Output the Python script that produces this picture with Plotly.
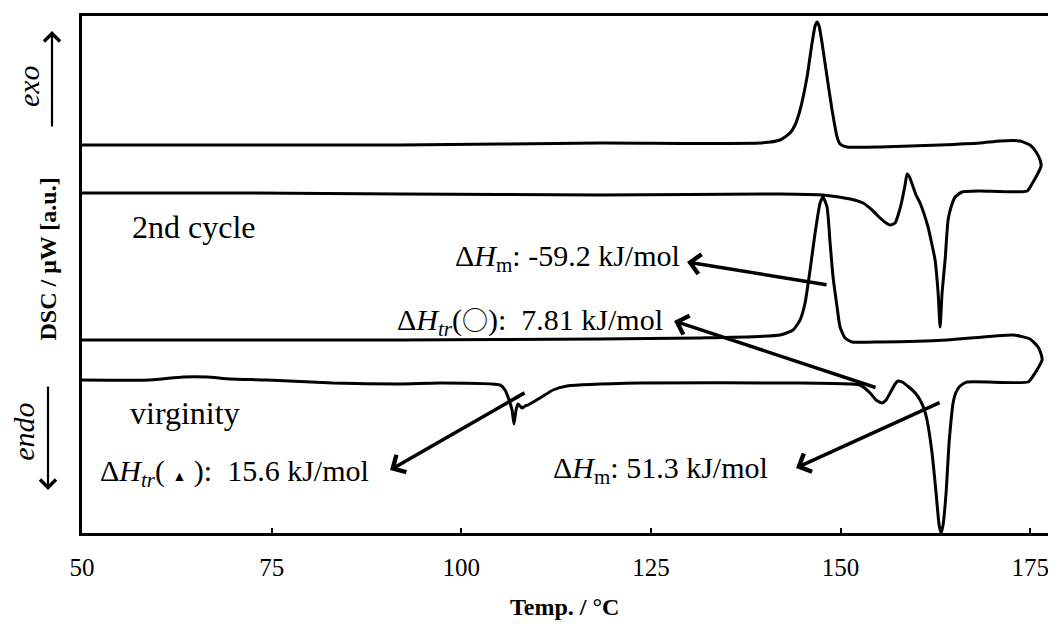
import plotly.graph_objects as go

# ---------------- data ----------------
# 2nd cycle: heating (lower branch, left->right) then cooling (upper branch, right->left)
cycle2_temp = [50.0, 72.15, 91.92, 118.29, 142.02, 147.69, 151.25, 152.97, 154.15, 155.21, 156.0,
               156.53, 157.19, 157.71, 158.11, 158.50, 158.77, 159.03, 159.43, 159.95, 160.48,
               161.53, 162.06, 162.46, 162.86, 163.12, 163.38, 163.78, 164.17, 164.57, 165.10,
               166.02, 168.39, 174.59, 175.38, 176.04, 176.43, 176.30, 175.78, 174.98, 173.67,
               171.03, 168.39, 163.12, 155.21, 150.86, 149.93, 149.54, 148.88, 148.22, 147.56,
               147.17, 146.90, 146.64, 146.24, 145.58, 144.66, 144.0, 143.34, 142.02, 139.39,
               118.29, 91.92, 72.15, 50.0]
cycle2_dsc = [340, 340, 339, 338, 339, 338, 334, 330, 323, 315, 310,
              308, 310, 321, 333, 348, 359, 357, 349, 338, 330,
              306, 288, 273, 240, 206, 240, 273, 313, 326, 336,
              341, 342, 342, 351, 360, 367, 373, 381, 388, 392,
              392, 390, 388, 386, 386, 389, 396, 423, 456, 490,
              507, 511, 507, 490, 456, 423, 408, 400, 393, 390,
              390, 388, 388, 388]

# virginity (1st cycle): heating (lower branch) then cooling (upper branch)
virgin_temp = [50.0, 58.97, 63.32, 66.48, 69.51, 74.39, 83.09, 91.92, 97.20, 105.11, 105.77,
               106.30, 106.69, 106.95, 107.22, 107.48, 108.01, 108.41, 108.80, 110.38, 112.10,
               113.94, 123.57, 144.66, 151.25, 152.57, 153.89, 154.68, 155.47, 156.0, 156.53,
               157.19, 157.58, 158.11, 159.16, 159.95, 160.48, 161.01, 161.40, 162.06, 162.59,
               162.99, 163.25, 163.51, 163.91, 164.30, 164.57, 164.83, 165.23, 165.76, 166.68,
               174.72, 175.38, 176.04, 176.57, 176.43, 176.04, 174.98, 172.74, 164.04, 155.21,
               151.52, 150.59, 149.93, 149.54, 149.01, 148.62, 148.22, 147.69, 147.30, 146.64,
               145.98, 145.32, 144.66, 143.74, 142.02, 131.48, 118.29, 91.92, 65.56, 50.0]
virgin_dsc = [153, 153, 156, 156, 154, 153, 150, 149, 150, 148, 143,
              133, 123, 109, 123, 129, 125, 127, 128, 135, 143,
              147, 150, 150, 149, 148, 140, 133, 130, 133, 140,
              149, 152, 151, 145, 139, 133, 124, 113, 80, 40,
              8, 0, 8, 40, 90, 113, 130, 141, 147, 151,
              151, 157, 165, 173, 179, 186, 194, 198, 193, 191,
              191, 195, 206, 226, 256, 290, 326, 336, 330, 300,
              263, 230, 213, 203, 198, 195, 194, 193, 193, 193]

x_ticks = [50, 75, 100, 125, 150, 175]
x_range = [50, 178.4]
y_range = [0, 517]

# labels of the two cycles: (text, temp, dsc)
cycle_labels = [("2nd cycle", 56.33, 306), ("virginity", 56.06, 120)]

# enthalpy annotations
dH_texts = [
    "Δ<i>H</i><sub>m</sub>: -59.2 kJ/mol",
    "Δ<i>H</i><sub><i>tr</i></sub>(<span style=\"font-family:'Noto Sans CJK JP';font-size:26px\">○</span>):  7.81 kJ/mol",
    "Δ<i>H</i><sub><i>tr</i></sub>( <span style=\"font-size:14px\">▲</span> ):  15.6 kJ/mol",
    "Δ<i>H</i><sub>m</sub>: 51.3 kJ/mol",
]
dH_text_temp = [129.10, 126.86, 52.11, 111.83]
dH_text_dsc = [275, 213, 60, 63]
dH_anchor = ["right", "right", "left", "left"]
dH_head_temp = [129.76, 128.05, 90.61, 144.13]
dH_head_dsc = [271, 212, 63, 65]
dH_tail_temp = [148.35, 154.81, 108.54, 163.25]
dH_tail_dsc = [248, 145, 141, 131]

FONT = "Liberation Serif, Times New Roman, serif"

fig = go.Figure()
for t, s in [(cycle2_temp, cycle2_dsc), (virgin_temp, virgin_dsc)]:
    fig.add_trace(go.Scatter(x=t, y=s, mode="lines",
                             line=dict(color="black", width=3, shape="spline", smoothing=0.5),
                             hoverinfo="skip"))

ann = []
for txt, tx, ty in cycle_labels:
    ann.append(dict(text=txt, x=tx, y=ty, xref="x", yref="y", showarrow=False,
                    xanchor="left", yanchor="middle", font=dict(family=FONT, size=32, color="black")))
for i, txt in enumerate(dH_texts):
    ann.append(dict(text=txt, x=dH_text_temp[i], y=dH_text_dsc[i], xref="x", yref="y",
                    showarrow=False, xanchor=dH_anchor[i], yanchor="middle",
                    font=dict(family=FONT, size=30, color="black")))
    ann.append(dict(text="", x=dH_head_temp[i], y=dH_head_dsc[i], xref="x", yref="y",
                    ax=dH_tail_temp[i], ay=dH_tail_dsc[i], axref="x", ayref="y",
                    showarrow=True, arrowhead=4, arrowsize=1.1, arrowwidth=3.5, arrowcolor="black"))

# axis side labels
ann.append(dict(text="<b>DSC / μW [a.u.]</b>", x=-0.0354, y=0.530, xref="paper", yref="paper",
                textangle=-90, showarrow=False, xanchor="center", yanchor="middle",
                font=dict(family=FONT, size=24, color="black")))
ann.append(dict(text="<i>exo</i>", x=-0.0554, y=0.8646, xref="paper", yref="paper",
                textangle=-90, showarrow=False, xanchor="center", yanchor="middle", height=32,
                font=dict(family=FONT, size=30, color="black")))
ann.append(dict(text="<i>endo</i>", x=-0.0600, y=0.195, xref="paper", yref="paper",
                textangle=-90, showarrow=False, xanchor="center", yanchor="middle", height=32,
                font=dict(family=FONT, size=30, color="black")))
ann.append(dict(text="", x=-0.0308, y=0.971, xref="paper", yref="paper", ax=0, ay=97,
                showarrow=True, arrowhead=4, arrowsize=1.4, arrowwidth=2.2, arrowcolor="black"))
ann.append(dict(text="", x=-0.0349, y=0.0832, xref="paper", yref="paper", ax=0, ay=-105,
                showarrow=True, arrowhead=4, arrowsize=1.4, arrowwidth=2.2, arrowcolor="black"))
ann.append(dict(text="<b>Temp. / °C</b>", x=0.4949, y=-0.143, xref="paper", yref="paper",
                showarrow=False, xanchor="center", yanchor="middle",
                font=dict(family=FONT, size=24, color="black")))

fig.update_layout(
    width=1048, height=612,
    margin=dict(l=74, r=0, t=8, b=87),
    paper_bgcolor="white", plot_bgcolor="white",
    showlegend=False,
    annotations=ann,
    xaxis=dict(range=x_range, tickvals=x_ticks, ticks="inside", ticklen=5, tickwidth=2,
               tickcolor="black", showline=True, mirror=True, linecolor="black", linewidth=2.5,
               showgrid=False, zeroline=False, ticklabelstandoff=10, automargin=False,
               ticklabeloverflow="allow",
               tickfont=dict(family=FONT, size=25, color="black")),
    yaxis=dict(range=y_range, showticklabels=False, ticks="", showline=True, mirror=False,
               linecolor="black", linewidth=2.5, showgrid=False, zeroline=False, automargin=False),
)

fig.write_html("out.html")
